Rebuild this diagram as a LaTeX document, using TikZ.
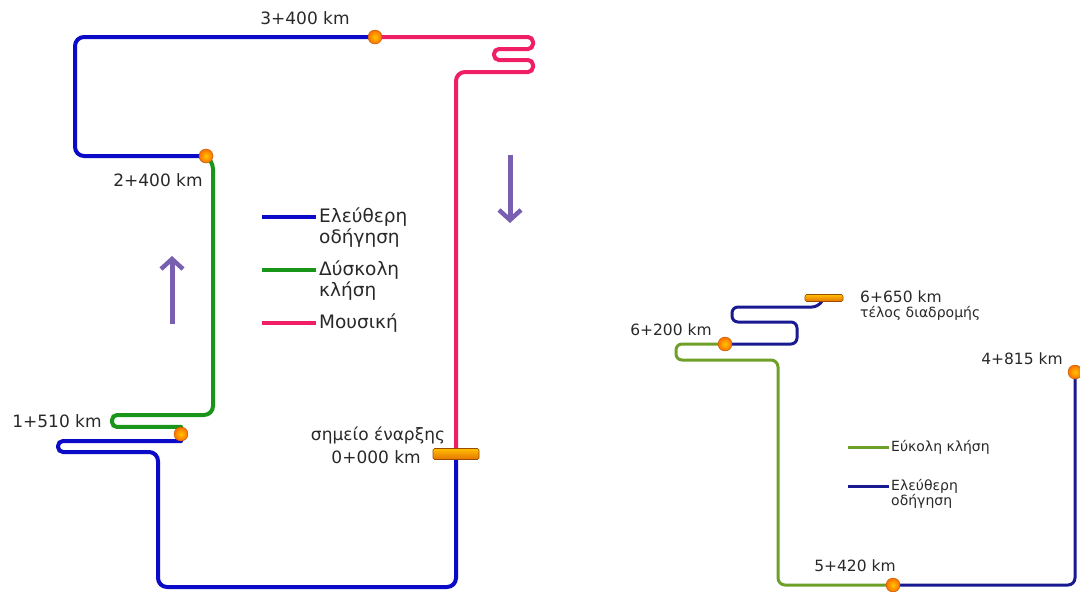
\documentclass[tikz,border=0pt]{standalone}
\usepackage{fontspec}
\setmainfont{DejaVu Sans}
\usetikzlibrary{arrows.meta,shadings}
\pgfdeclarelayer{bg}
\pgfsetlayers{bg,main}

\definecolor{freeblue}{RGB}{10,10,200}
\definecolor{hardgreen}{RGB}{25,150,25}
\definecolor{musicpink}{RGB}{240,30,100}
\definecolor{easygreen}{RGB}{110,160,40}
\definecolor{navyroute}{RGB}{25,25,145}
\definecolor{dirpurple}{RGB}{120,95,175}
\definecolor{labelgray}{RGB}{40,40,40}

\tikzset{
	route/.style={line width=4pt, line cap=round, rounded corners=9},
	thinroute/.style={line width=3pt, line cap=round, rounded corners=7},
	stop/.style={circle, inner sep=0pt, minimum size=14pt, draw=orange!70!black, line width=0.4pt,
		inner color=yellow!55!orange, outer color=orange!85!red},
	bar/.style={rectangle, rounded corners=1.5pt, inner sep=0pt, draw=orange!60!black, line width=0.6pt,
		top color=yellow!50!orange, bottom color=orange!90!black},
	kmlabel/.style={text=labelgray, font=\fontsize{17}{19}\selectfont, inner sep=0pt},
	smalllabel/.style={text=labelgray, font=\fontsize{15.5}{17}\selectfont, inner sep=0pt},
	legendtext/.style={text=labelgray, font=\fontsize{18.5}{21}\selectfont, inner sep=0pt, align=left, anchor=north west},
	smalllegend/.style={text=labelgray, font=\fontsize{14}{13}\selectfont, inner sep=0pt, align=left, anchor=north west},
	dirarrow/.style={dirpurple, line width=5pt, -{Straight Barb[length=10pt, width=22pt, line width=4.5pt]}}
}

\begin{document}
\begin{tikzpicture}[x=1pt, y=-1pt]
	\useasboundingbox (0,0) rectangle (1080,592);

	% stops of the first route
	\node[stop] (d3400) at (375,37) {};
	\node[stop] (d2400) at (206,156) {};
	\node[stop] (d1510) at (181,434) {};
	\node[bar, minimum width=46pt, minimum height=11pt] (start) at (456,454) {};

	% stops of the second route
	\node[stop] (d4815) at (1075,372) {};
	\node[stop] (d5420) at (893,585) {};
	\node[stop] (d6200) at (725,344) {};
	\node[bar, minimum width=38pt, minimum height=7pt] (finish) at (824,298) {};

	\begin{pgfonlayer}{bg}
		% first route
		\draw[route, freeblue] (start.center) -- (456,587) -- (158,587) -- (158,452)
			[rounded corners=5] -- (58,452) -- (58,441) -- (d1510.south);
		\draw[route, hardgreen] (d1510.north) [rounded corners=5] -- (112,427) -- (112,415)
			[rounded corners=9] -- (213,415) -- (213,160) -- (d2400.center);
		\draw[route, freeblue] (d2400.center) -- (75,156) -- (75,37) -- (d3400.center);
		\draw[route, musicpink] (d3400.center) [rounded corners=5] -- (533,37) -- (533,49)
			-- (494,49) -- (494,60) -- (533,60) -- (533,72) [rounded corners=9] -- (456,72) -- (start.center);

		% second route
		\draw[thinroute, navyroute] (d4815.center) -- (1075,585) -- (d5420.center);
		\draw[thinroute, easygreen] (d5420.center) -- (778,585) -- (778,360)
			[rounded corners=6] -- (676,360) -- (676,344) -- (d6200.center);
		\draw[thinroute, navyroute] (d6200.center) [rounded corners=6] -- (797,344) -- (797,322)
			-- (732,322) -- (732,307) -- (818,307) -- (finish.center);
	\end{pgfonlayer}

	% km labels
	\node[kmlabel] (l3400) at (305,18) {3+400 km};
	\node[kmlabel] (l2400) at (158,180) {2+400 km};
	\node[kmlabel] (l1510) at (57,421) {1+510 km};
	\node[kmlabel] (lstart) at (378,435) {σημείο έναρξης};
	\node[kmlabel, anchor=east] (l0000) at (421,457) {0+000 km};

	\node[smalllabel] (l4815) at (1022,359) {4+815 km};
	\node[smalllabel] (l5420) at (855,566) {5+420 km};
	\node[smalllabel] (l6200) at (671,330) {6+200 km};
	\node[smalllabel, anchor=west] (l6650) at (860,297) {6+650 km};
	\node[smalllabel, anchor=west, font=\fontsize{14}{16}\selectfont] (lend) at (860,313) {τέλος διαδρομής};

	% direction of travel
	\draw[dirarrow] (172,324) -- (172,256);
	\draw[dirarrow] (510,155) -- (510,223);

	% legend of the first route
	\draw[line width=4pt, freeblue] (262,217) -- (316,217);
	\node[legendtext] (lg1) at (319,207) {Ελεύθερη\\οδήγηση};
	\draw[line width=4pt, hardgreen] (262,270) -- (316,270);
	\node[legendtext] (lg2) at (319,260) {Δύσκολη\\κλήση};
	\draw[line width=4pt, musicpink] (262,323) -- (316,323);
	\node[legendtext] (lg3) at (319,313) {Μουσική};

	% legend of the second route
	\draw[line width=3pt, easygreen] (848,447) -- (889,447);
	\node[smalllegend] (lg4) at (891,440) {Εύκολη κλήση};
	\draw[line width=3pt, navyroute] (848,486) -- (889,486);
	\node[smalllegend] (lg5) at (891,479) {Ελεύθερη\\οδήγηση};
\end{tikzpicture}
\end{document}
